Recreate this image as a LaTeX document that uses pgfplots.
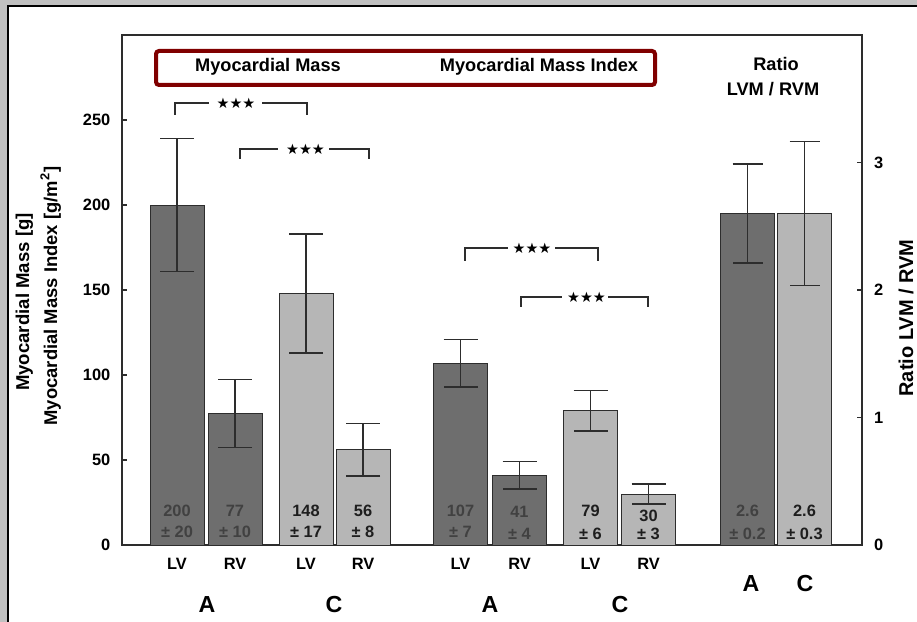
\documentclass[border=0pt]{standalone}
\usepackage{pgfplots}
\pgfplotsset{compat=1.18}
\usepackage{fontspec}
\setmainfont{Liberation Sans}
\newfontfamily\symfont{DejaVu Sans}
\definecolor{darkbar}{RGB}{110,110,110}
\definecolor{lightbar}{RGB}{182,182,182}
\definecolor{boxred}{RGB}{128,0,0}
\definecolor{axgray}{RGB}{45,45,45}
\definecolor{framegray}{RGB}{192,192,192}
\definecolor{darktext}{RGB}{65,65,65}
\definecolor{lighttext}{RGB}{30,30,30}
\pgfplotsset{
  barstyle/.style={ybar, bar width=54, bar shift=0pt, draw=axgray, line width=0.5pt,
    error bars/y dir=both, error bars/y explicit,
    error bars/error bar style={axgray, line width=0.75pt},
    error bars/error mark options={axgray, line width=0.75pt, mark size=8.5pt, rotate=90}},
  commonaxis/.style={at={(61pt,38.5pt)}, anchor=south west, scale only axis,
    width=370pt, height=255pt, xmin=122, xmax=862,
    axis line style={axgray, line width=0.75pt},
    tick align=inside, major tick length=2.5pt,
    tick style={axgray, line width=0.75pt},
    /pgf/number format/assume math mode=true,
    clip=false},
}
\begin{document}
\begin{tikzpicture}[x=0.5pt,y=0.5pt]
\useasboundingbox (0,0) rectangle (917,622);
\begin{scope}[shift={(0,622)}, y=-0.5pt]
\fill[framegray] (0,0) rectangle (917,622);
\fill[white] (7.7,6) rectangle (917,622);
\draw[black, line width=1pt] (7.7,622) -- (7.7,6) -- (917,6);
\end{scope}

\begin{axis}[commonaxis,
  ymin=0, ymax=300,
  xtick=\empty,
  ytick={0,50,100,150,200,250},
  ytick pos=left,
  yticklabel style={font=\fontsize{8.2}{9}\selectfont\bfseries, text=black, xshift=-2.3pt},
]
% Myocardial mass and index, group A (dark)
\addplot[barstyle, fill=darkbar] coordinates {
  (177,200) +- (0,39)
  (235,77.5) +- (0,20)
  (460.5,107) +- (0,14)
  (519.5,41) +- (0,8)
};
% group C (light)
\addplot[barstyle, fill=lightbar] coordinates {
  (306,148) +- (0,35)
  (363,56) +- (0,15.5)
  (590.5,79) +- (0,12)
  (648.5,30) +- (0,6)
};
\end{axis}

\begin{axis}[commonaxis,
  ymin=0, ymax=4,
  axis x line=none, axis y line*=right,
  ytick={0,1,2,3},
  yticklabel style={font=\fontsize{8.2}{9}\selectfont\bfseries, text=black, xshift=2.5pt},
]
\addplot[barstyle, fill=darkbar, error bars/error mark options={axgray, line width=0.75pt, mark size=7.5pt, rotate=90}] coordinates {(747.5,2.6) +- (0,0.39)};
\addplot[barstyle, fill=lightbar, error bars/error mark options={axgray, line width=0.75pt, mark size=7.5pt, rotate=90}] coordinates {(804.5,2.6) +- (0,0.565)};
\end{axis}

\begin{scope}[shift={(0,622)}, y=-0.5pt]
% header box
\draw[boxred, line width=2pt, rounded corners=1.5pt] (156,51) rectangle (655,85);
\begin{scope}[every node/.style={font=\fontsize{9.1}{11}\selectfont\bfseries, anchor=base, inner sep=0pt}]
\node at (268,72) {Myocardial Mass};
\node at (539,72) {Myocardial Mass Index};
\node at (776,71) {Ratio};
\node at (773,96) {LVM / RVM};
\end{scope}

% axis titles
\node[rotate=90, anchor=base, inner sep=0pt, font=\fontsize{9.3}{11}\selectfont\bfseries] at (29,302) {Myocardial Mass [g]};
\node[rotate=90, anchor=base, inner sep=0pt, font=\fontsize{9.2}{11}\selectfont\bfseries] at (57,296) {Myocardial Mass Index [g/m\textsuperscript{2}]};
\node[rotate=90, anchor=base, inner sep=0pt, font=\fontsize{10}{12}\selectfont\bfseries] at (913,318) {Ratio LVM / RVM};

% significance brackets
\begin{scope}[axgray, line width=0.75pt]
\draw (175,115) -- (175,103) -- (209,103);
\draw (262,103) -- (307,103) -- (307,115);
\draw (240,159) -- (240,149) -- (278,149);
\draw (329,149) -- (369,149) -- (369,159);
\draw (465,261) -- (465,248) -- (508,248);
\draw (555,248) -- (598,248) -- (598,261);
\draw (521,307) -- (521,297) -- (562,297);
\draw (608,297) -- (648,297) -- (648,307);
\end{scope}
\begin{scope}[every node/.style={font=\symfont\fontsize{7.2}{8}\selectfont, inner sep=0pt, text=black}]
\node at (236,103) {★★★};
\node at (305.5,149) {★★★};
\node at (532,248) {★★★};
\node at (586.5,297) {★★★};
\end{scope}

% values inside the bars
\begin{scope}[every node/.style={font=\fontsize{8.2}{9}\selectfont\bfseries, anchor=base, inner sep=0pt}]
\node[text=darktext] at (177,517) {200};   \node[text=darktext] at (177,538) {± 20};
\node[text=darktext] at (235,517) {77};    \node[text=darktext] at (235,538) {± 10};
\node[text=lighttext] at (306,517) {148};  \node[text=lighttext] at (306,538) {± 17};
\node[text=lighttext] at (363,517) {56};   \node[text=lighttext] at (363,538) {± 8};
\node[text=darktext] at (460.5,517) {107}; \node[text=darktext] at (460.5,538) {± 7};
\node[text=darktext] at (519.5,518) {41};  \node[text=darktext] at (519.5,539) {± 4};
\node[text=lighttext] at (590.5,517) {79}; \node[text=lighttext] at (590.5,539) {± 6};
\node[text=lighttext] at (648.5,522) {30}; \node[text=lighttext] at (648.5,540) {± 3};
\node[text=darktext] at (747.5,517) {2.6}; \node[text=darktext] at (747.5,539) {± 0.2};
\node[text=lighttext] at (804.5,517) {2.6}; \node[text=lighttext] at (804.5,539) {± 0.3};
\end{scope}

% category labels
\begin{scope}[every node/.style={font=\fontsize{8.2}{9}\selectfont\bfseries, anchor=base, inner sep=0pt}]
\node at (177,570) {LV}; \node at (235,570) {RV};
\node at (306,570) {LV}; \node at (363,570) {RV};
\node at (460.5,570) {LV}; \node at (519.5,570) {RV};
\node at (590.5,570) {LV}; \node at (648.5,570) {RV};
\end{scope}
\begin{scope}[every node/.style={font=\fontsize{11.6}{13}\selectfont\bfseries, anchor=base, inner sep=0pt}]
\node at (207,612) {A}; \node at (334,612) {C};
\node at (490,612) {A}; \node at (620,612) {C};
\node at (751,592) {A}; \node at (805,592) {C};
\end{scope}
\end{scope}
\end{tikzpicture}
\end{document}
